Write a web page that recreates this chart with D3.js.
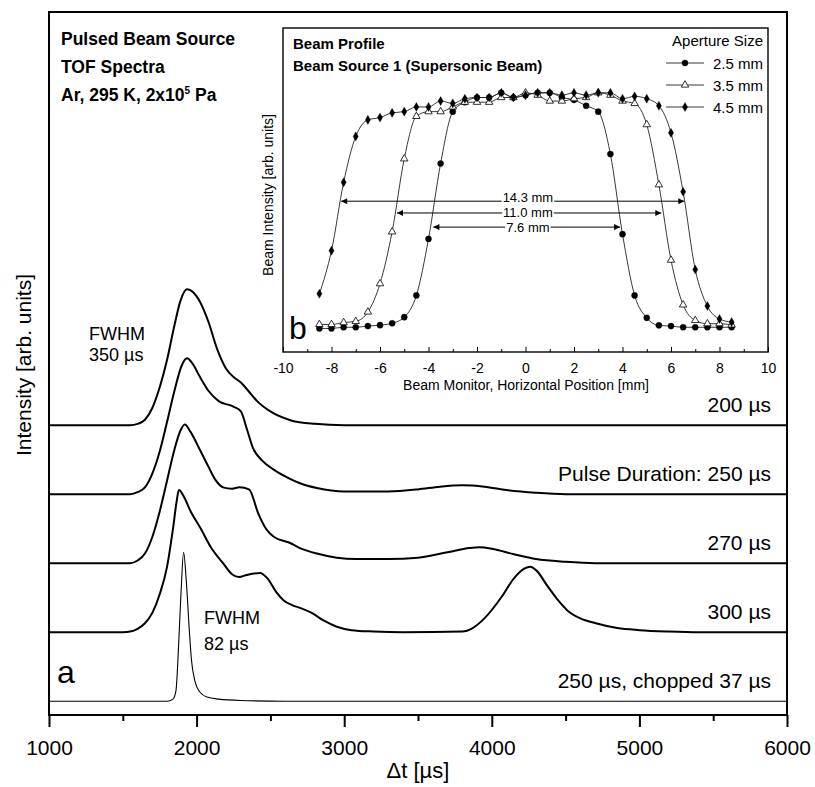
<!DOCTYPE html>
<html>
<head>
<meta charset="utf-8">
<script src="https://cdn.jsdelivr.net/npm/d3@7"></script>
<style>
  body { margin: 0; background: #fff; }
  text { font-family: "Liberation Sans", Arial, sans-serif; fill: #000; }
</style>
</head>
<body>
<svg id="chart" width="815" height="787"></svg>
<script>
// ---- main panel (a): TOF spectra, [t in µs, intensity above own baseline]
const tof200 = [[1000,0],[1550,0],[1600,0.02],[1650,0.08],[1700,0.25],[1750,0.55],[1800,0.95],[1850,1.45],[1890,1.8],[1935,1.97],[1980,1.92],[2020,1.8],[2080,1.5],[2140,1.1],[2200,0.82],[2250,0.7],[2300,0.62],[2350,0.5],[2410,0.35],[2500,0.2],[2640,0.07],[2800,0.02],[3000,0],[6000,0]];
const tof250 = [[1000,0],[1550,0],[1600,0.03],[1650,0.1],[1700,0.3],[1750,0.62],[1800,1.05],[1850,1.5],[1900,1.87],[1935,1.97],[1970,1.9],[2023,1.7],[2080,1.5],[2150,1.35],[2250,1.27],[2300,1.2],[2340,0.95],[2380,0.68],[2443,0.49],[2520,0.36],[2626,0.23],[2700,0.16],[2815,0.09],[3000,0.04],[3300,0.04],[3500,0.07],[3650,0.11],[3800,0.13],[3950,0.11],[4100,0.06],[4300,0.02],[4500,0],[6000,0]];
const tof270 = [[1000,0],[1550,0],[1600,0.04],[1650,0.14],[1700,0.38],[1750,0.75],[1800,1.2],[1850,1.65],[1890,1.92],[1920,2.01],[1960,1.9],[2023,1.64],[2080,1.4],[2130,1.2],[2180,1.1],[2240,1.08],[2290,1.1],[2355,1.07],[2418,0.72],[2470,0.5],[2525,0.38],[2626,0.3],[2700,0.22],[2815,0.14],[2950,0.08],[3080,0.06],[3300,0.06],[3500,0.08],[3700,0.16],[3850,0.22],[3920,0.23],[4000,0.21],[4150,0.13],[4300,0.06],[4500,0.02],[4700,0],[6000,0]];
const tof300 = [[1000,0],[1500,0],[1550,0.01],[1600,0.05],[1650,0.13],[1700,0.28],[1750,0.55],[1800,0.95],[1840,1.5],[1865,1.9],[1880,2.06],[1910,1.98],[1960,1.75],[2023,1.52],[2100,1.22],[2179,1.0],[2240,0.84],[2287,0.8],[2340,0.83],[2430,0.86],[2480,0.78],[2540,0.58],[2590,0.46],[2650,0.39],[2705,0.35],[2780,0.28],[2860,0.17],[2950,0.08],[3050,0.03],[3200,0.01],[3400,0],[3800,0.01],[3870,0.06],[3950,0.2],[4066,0.51],[4150,0.78],[4220,0.92],[4260,0.95],[4300,0.9],[4380,0.66],[4450,0.46],[4510,0.32],[4600,0.2],[4705,0.13],[4850,0.06],[5000,0.03],[5200,0.01],[5400,0],[6000,0]];
const tofChopped = [[1000,0],[1800,0],[1840,0.03],[1860,0.15],[1880,0.9],[1895,1.6],[1912,2.16],[1930,1.75],[1950,1.05],[1965,0.6],[1990,0.28],[2023,0.13],[2070,0.06],[2150,0.03],[2300,0.01],[2600,0],[6000,0]];

const traces = [tof200, tof250, tof270, tof300, tofChopped];
const traceOffsets = [4.2, 3.2, 2.2, 1.2, 0.2];
const traceLabels = ["200 \u00b5s", "Pulse Duration: 250 \u00b5s", "270 \u00b5s", "300 \u00b5s", "250 \u00b5s, chopped 37 \u00b5s"];

const xMajor = [1000, 2000, 3000, 4000, 5000, 6000];
const xMinor = [1500, 2500, 3500, 4500, 5500];

// ---- inset (b): beam profiles
const posMM = [-8.5,-8,-7.5,-7,-6.5,-6,-5.5,-5,-4.5,-4,-3.5,-3,-2.5,-2,-1.5,-1,-0.5,0,0.5,1,1.5,2,2.5,3,3.5,4,4.5,5,5.5,6,6.5,7,7.5,8,8.5];
const ap25 = [0,0,0.005,0.005,0.01,0.014,0.022,0.048,0.14,0.38,0.70,0.92,0.96,0.98,0.98,1.0,0.98,0.99,1.0,1.0,0.98,0.97,0.945,0.92,0.74,0.40,0.14,0.045,0.013,0.01,0.005,0.005,0.005,0.005,0.005];
const ap35 = [0.017,0.017,0.025,0.03,0.07,0.19,0.41,0.72,0.90,0.92,0.92,0.94,0.96,0.96,0.96,0.98,0.98,1.0,0.99,0.965,0.965,0.975,0.98,1.0,0.99,0.965,0.955,0.865,0.61,0.29,0.10,0.034,0.02,0.02,0.015];
const ap45 = [0.147,0.33,0.62,0.815,0.885,0.895,0.915,0.92,0.94,0.94,0.965,0.955,0.975,0.98,0.98,1.0,0.98,0.99,1.0,1.0,0.99,1.0,0.99,1.0,1.0,0.975,0.985,0.975,0.945,0.83,0.58,0.25,0.095,0.04,0.027];
const apertureLabels = ["2.5 mm", "3.5 mm", "4.5 mm"];
const apertureMarkers = ["circle", "triangle", "diamond"];

const widthArrows = [
  { label: "14.3 mm", x1: -7.6, x2: 6.55, y: 0.54 },
  { label: "11.0 mm", x1: -5.3, x2: 5.6, y: 0.49 },
  { label: "7.6 mm", x1: -3.8, x2: 3.9, y: 0.43 }
];
const insetMajor = [-10, -8, -6, -4, -2, 0, 2, 4, 6, 8, 10];
const insetMinor = [-9, -7, -5, -3, -1, 1, 3, 5, 7, 9];

const svg = d3.select("#chart");

// ================= main panel =================
const x = d3.scaleLinear().domain([1000, 6000]).range([49, 787]);
const y = d3.scaleLinear().domain([0, 10.19]).range([715, 12]);

const main = svg.append("g");

traces.forEach((pts, i) => {
  const off = traceOffsets[i];
  const line = d3.line()
    .x(d => x(d[0]))
    .y(d => y(d[1] + off))
    .curve(d3.curveMonotoneX);
  main.append("path")
    .attr("d", line(pts))
    .attr("fill", "none")
    .attr("stroke", "#000")
    .attr("stroke-width", i === 4 ? 1.1 : 2)
    .attr("stroke-linejoin", "round");

  main.append("text")
    .attr("x", 771)
    .attr("y", y(off) - 13)
    .attr("text-anchor", "end")
    .attr("font-size", 21)
    .text(traceLabels[i]);
});

// frame
main.append("rect")
  .attr("x", 49).attr("y", 12)
  .attr("width", 738).attr("height", 703)
  .attr("fill", "none").attr("stroke", "#000").attr("stroke-width", 2);

const xAxis = d3.axisBottom(x).tickValues(xMajor).tickSize(12).tickPadding(13).tickFormat(d => String(d));
const gx = main.append("g").attr("transform", "translate(0,715)").call(xAxis);
gx.select(".domain").remove();
gx.selectAll("line").attr("stroke-width", 2);
gx.selectAll("text").attr("font-size", 21).attr("font-family", "Liberation Sans, Arial, sans-serif");

const gxm = main.append("g").attr("transform", "translate(0,715)")
  .call(d3.axisBottom(x).tickValues(xMinor).tickSize(6).tickFormat(""));
gxm.select(".domain").remove();
gxm.selectAll("line").attr("stroke-width", 2);

main.append("text")
  .attr("x", 418).attr("y", 778)
  .attr("text-anchor", "middle")
  .attr("font-size", 22)
  .text("\u0394t [\u00b5s]");

main.append("text")
  .attr("transform", "translate(31,365) rotate(-90)")
  .attr("text-anchor", "middle")
  .attr("font-size", 21)
  .text("Intensity [arb. units]");

// title block
const titleLines = ["Pulsed Beam Source", "TOF Spectra"];
titleLines.forEach((t, i) => {
  main.append("text")
    .attr("x", 61).attr("y", 45 + i * 28)
    .attr("font-size", 17.5).attr("font-weight", "bold")
    .text(t);
});
const t3 = main.append("text")
  .attr("x", 61).attr("y", 101)
  .attr("font-size", 17.5).attr("font-weight", "bold");
t3.append("tspan").text("Ar, 295 K, 2x10");
t3.append("tspan").attr("dy", -7).attr("font-size", 10).text("5");
t3.append("tspan").attr("dy", 7).text(" Pa");

// FWHM notes
main.append("text").attr("x", 89).attr("y", 340).attr("font-size", 18).text("FWHM");
main.append("text").attr("x", 89).attr("y", 361).attr("font-size", 18).text("350 \u00b5s");
main.append("text").attr("x", 204).attr("y", 624).attr("font-size", 18).text("FWHM");
main.append("text").attr("x", 204).attr("y", 650).attr("font-size", 18).text("82 \u00b5s");
main.append("text").attr("x", 57).attr("y", 683).attr("font-size", 32).text("a");

// ================= inset (b) =================
const ix = d3.scaleLinear().domain([-10, 10]).range([283, 768]);
const iy = d3.scaleLinear().domain([-0.1, 1.275]).range([352, 28]);

const inset = svg.append("g");
inset.append("rect")
  .attr("x", 283).attr("y", 28)
  .attr("width", 485).attr("height", 324)
  .attr("fill", "#fff").attr("stroke", "#000").attr("stroke-width", 1.4);

const gix = inset.append("g").attr("transform", "translate(0,352)")
  .call(d3.axisBottom(ix).tickValues(insetMajor).tickSizeInner(-5).tickSizeOuter(0).tickPadding(11).tickFormat(d => String(d)));
gix.select(".domain").remove();
gix.selectAll("text").attr("font-size", 14).attr("font-family", "Liberation Sans, Arial, sans-serif");
const gixm = inset.append("g").attr("transform", "translate(0,352)")
  .call(d3.axisBottom(ix).tickValues(insetMinor).tickSizeInner(-3).tickSizeOuter(0).tickFormat(""));
gixm.select(".domain").remove();

inset.append("text")
  .attr("x", 526).attr("y", 390)
  .attr("text-anchor", "middle").attr("font-size", 14)
  .text("Beam Monitor, Horizontal Position [mm]");
inset.append("text")
  .attr("transform", "translate(273,195) rotate(-90)")
  .attr("text-anchor", "middle").attr("font-size", 14)
  .text("Beam Intensity [arb. units]");

inset.append("text").attr("x", 293).attr("y", 49).attr("font-size", 15).attr("font-weight", "bold").text("Beam Profile");
inset.append("text").attr("x", 293).attr("y", 71).attr("font-size", 15).attr("font-weight", "bold").text("Beam Source 1 (Supersonic Beam)");
inset.append("text").attr("x", 289).attr("y", 339).attr("font-size", 32).text("b");

const symbolFor = {
  circle: d3.symbol().type(d3.symbolCircle).size(30),
  triangle: d3.symbol().type(d3.symbolTriangle).size(24),
  diamond: d3.symbol().type(d3.symbolDiamond).size(24)
};

function drawMarker(g, kind, cx, cy) {
  g.append("path")
    .attr("d", symbolFor[kind]())
    .attr("transform", `translate(${cx},${cy})`)
    .attr("fill", kind === "triangle" ? "#fff" : "#000")
    .attr("stroke", "#000")
    .attr("stroke-width", kind === "triangle" ? 0.8 : 0.3);
}

const profileLine = d3.line().x(d => ix(d[0])).y(d => iy(d[1])).curve(d3.curveMonotoneX);
[ap25, ap35, ap45].forEach((vals, k) => {
  const pts = posMM.map((p, j) => [p, vals[j]]);
  inset.append("path")
    .attr("d", profileLine(pts))
    .attr("fill", "none").attr("stroke", "#222").attr("stroke-width", 0.9);
  pts.forEach(d => drawMarker(inset, apertureMarkers[k], ix(d[0]), iy(d[1])));
});

// legend
inset.append("text").attr("x", 763).attr("y", 46).attr("text-anchor", "end").attr("font-size", 15).text("Aperture Size");
apertureLabels.forEach((lab, k) => {
  const ly = 63 + k * 22;
  inset.append("line").attr("x1", 666).attr("x2", 704).attr("y1", ly).attr("y2", ly)
    .attr("stroke", "#222").attr("stroke-width", 0.9);
  drawMarker(inset, apertureMarkers[k], 685, ly);
  inset.append("text").attr("x", 763).attr("y", ly + 6).attr("text-anchor", "end").attr("font-size", 15).text(lab);
});

// width arrows
const defs = svg.append("defs");
defs.append("marker")
  .attr("id", "arrow")
  .attr("viewBox", "0 0 10 10")
  .attr("refX", 10).attr("refY", 5)
  .attr("markerWidth", 9).attr("markerHeight", 6)
  .attr("markerUnits", "userSpaceOnUse")
  .attr("orient", "auto-start-reverse")
  .append("path").attr("d", "M0,0 L10,5 L0,10 z").attr("fill", "#000");

widthArrows.forEach((a, i) => {
  const yy = iy(a.y);
  inset.append("line")
    .attr("x1", ix(a.x1)).attr("x2", ix(a.x2))
    .attr("y1", yy).attr("y2", yy)
    .attr("stroke", "#000").attr("stroke-width", 1)
    .attr("marker-start", "url(#arrow)").attr("marker-end", "url(#arrow)");
  // top label sits on its line, the others are centred on theirs
  const lbl = inset.append("text")
    .attr("x", ix(0.1)).attr("y", i === 0 ? yy + 1 : yy + 4.5)
    .attr("text-anchor", "middle").attr("font-size", 13)
    .text(a.label);
  const bb = lbl.node().getBBox();
  inset.insert("rect", () => lbl.node())
    .attr("x", bb.x - 1).attr("y", yy - 3)
    .attr("width", bb.width + 2).attr("height", 6)
    .attr("fill", "#fff");
});
</script>
</body>
</html>
